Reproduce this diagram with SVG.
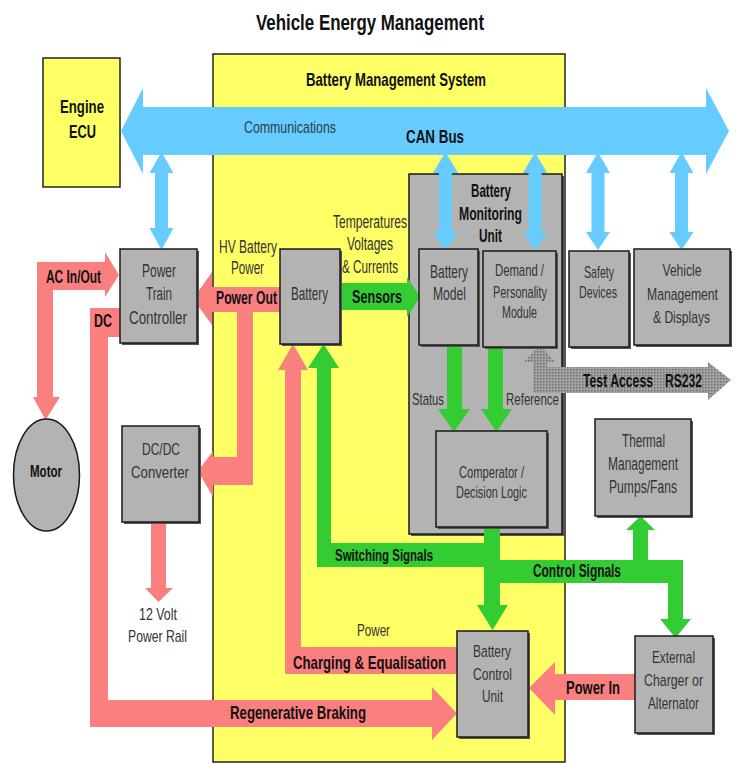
<svg xmlns="http://www.w3.org/2000/svg" width="736" height="763" viewBox="0 0 736 763">
<style>
text{font-family:"Liberation Sans",Arial,sans-serif;text-anchor:middle}
.r{font-size:17px;fill:#333}
.b{font-size:19px;font-weight:bold;fill:#111}
.box{fill:#b3b3b3;stroke:#1a1a1a;stroke-width:1.5}
.sh{fill:#555}
.yel{fill:#ffff66;stroke:#222;stroke-width:1.5}
.pink{fill:#fa8080}
.green{fill:#33cc33}
.blue{fill:#66ccff}
.gray{fill:url(#dots)}
</style>
<defs>
<pattern id="dots" width="3" height="3" patternUnits="userSpaceOnUse"><rect width="3" height="3" fill="#a3a3a3"/><rect width="1.5" height="1.5" fill="#6e6e6e"/></pattern>
</defs>
<rect width="736" height="763" fill="#fff"/>
<text class="b" x="370" y="30" font-size="22" textLength="228" lengthAdjust="spacingAndGlyphs" style="font-size:22px">Vehicle Energy Management</text>

<g id="bms">
<rect class="yel" x="213" y="54" width="352" height="708"/>
<text class="b" x="396" y="86" textLength="180" lengthAdjust="spacingAndGlyphs" style="font-size:18.5px">Battery Management System</text>
</g>
<g id="engine-ecu">
<rect class="yel" x="43" y="58" width="77" height="129"/>
<text class="b" x="82" y="113" textLength="44" lengthAdjust="spacingAndGlyphs" style="font-size:18.5px">Engine</text>
<text class="b" x="82.5" y="138" textLength="27" lengthAdjust="spacingAndGlyphs" style="font-size:18.5px">ECU</text>
</g>
<g id="bmu">
<rect class="sh" x="411" y="176" width="154" height="360"/>
<rect class="box" x="409" y="174" width="153" height="360"/>
<text class="b" x="491" y="197" textLength="40" lengthAdjust="spacingAndGlyphs">Battery</text>
<text class="b" x="490.5" y="220" textLength="63" lengthAdjust="spacingAndGlyphs">Monitoring</text>
<text class="b" x="490.5" y="242" textLength="23" lengthAdjust="spacingAndGlyphs">Unit</text>
</g>

<g id="connectors">
<polygon class="blue" points="121,131 143,88 143,107 706,107 706,88 729,131 706,174 706,155 143,155 143,174"/>
<polygon class="blue" points="161.5,152 173.5,173 168,173 168,228 173.5,228 161.5,250 149.5,228 155,228 155,173 149.5,173"/>
<polygon class="blue" points="445.5,152 458,173 452,173 452,232 458,232 445.5,251 433,232 439,232 439,173 433,173"/>
<polygon class="blue" points="535,152 547,173 541.5,173 541.5,232 547,232 535,251 523,232 528.5,232 528.5,173 523,173"/>
<polygon class="blue" points="598,152 610,173 604.5,173 604.5,232 610,232 598,250 586,232 591.5,232 591.5,173 586,173"/>
<polygon class="blue" points="681.5,152 693.5,173 688,173 688,232 693.5,232 681.5,250 669.5,232 675,232 675,173 669.5,173"/>

<polygon class="pink" points="119,275 105,252 105,262 37,262 37,397 33,397 45.5,420 60,397 53,397 53,290 105,290 105,297"/>
<polygon class="pink" points="90,308 120,308 120,337 108,337 108,700 432,700 432,687 457,713.5 432,740 432,727 90,727"/>
<polygon class="pink" points="280,287 280,312 253,312 253,485 213,485 213,497 198,471 213,451 213,457 237,457 237,312 212,312 212,325 193,299 212,272 212,287"/>
<polygon class="pink" points="151,522 166,522 166,588 173,588 158.5,602 145,588 151,588"/>
<polygon class="pink" points="293,344 308,370 301,370 301,647 457,647 457,674 285,674 285,370 278,370"/>
<polygon class="pink" points="637,674 637,700 555,700 555,715 529,688 555,662 555,674"/>

<polygon class="green" points="340,283 407,283 407,277 420,297 407,317 407,310 340,310"/>
<polygon class="green" points="323.5,344 339,368 331,368 331,543 500,543 500,567 317,567 317,368 308,368"/>
<polygon class="green" points="484,527 500,527 500,560 633,560 633,530 626,530 640.5,516 655,530 648,530 648,560 683,560 683,619 691,619 675.5,638 660,619 668,619 668,583 500,583 500,605 508,605 492.5,630 477,605 484,605"/>
<polygon class="green" points="447,345 462,345 462,409 470,409 454,432 438,409 447,409"/>
<polygon class="green" points="488,347 503,347 503,409 512,409 496.5,432 481,409 488,409"/>

<polygon class="gray" points="540,345 555,362 547,362 547,367 708,367 708,362 731,380 708,400 708,393 533,393 533,362 524,362"/>

<text class="r" x="290" y="133" textLength="92" lengthAdjust="spacingAndGlyphs" style="fill:#2c3e50">Communications</text>
<text class="b" x="435" y="143" textLength="58" lengthAdjust="spacingAndGlyphs" style="font-size:18.5px">CAN Bus</text>
<text class="b" x="73.5" y="283" textLength="55" lengthAdjust="spacingAndGlyphs">AC In/Out</text>
<text class="b" x="103" y="327" textLength="18" lengthAdjust="spacingAndGlyphs">DC</text>
<text class="r" x="248" y="253" textLength="58" lengthAdjust="spacingAndGlyphs" style="font-size:18px">HV Battery</text>
<text class="r" x="247.5" y="274" textLength="33" lengthAdjust="spacingAndGlyphs" style="font-size:18px">Power</text>
<text class="b" x="246.5" y="304" textLength="61" lengthAdjust="spacingAndGlyphs">Power Out</text>
<text class="r" x="370" y="228" textLength="74" lengthAdjust="spacingAndGlyphs" style="font-size:17.5px">Temperatures</text>
<text class="r" x="370" y="250" textLength="46" lengthAdjust="spacingAndGlyphs" style="font-size:17.5px">Voltages</text>
<text class="r" x="370" y="273" textLength="56" lengthAdjust="spacingAndGlyphs" style="font-size:17.5px">&amp; Currents</text>
<text class="b" x="377" y="303" textLength="50" lengthAdjust="spacingAndGlyphs" style="font-size:18.5px">Sensors</text>
<text class="b" x="618" y="387" textLength="70" lengthAdjust="spacingAndGlyphs">Test Access</text>
<text class="b" x="683.5" y="387" textLength="37" lengthAdjust="spacingAndGlyphs">RS232</text>
<text class="r" x="428" y="405" textLength="32" lengthAdjust="spacingAndGlyphs">Status</text>
<text class="r" x="532.5" y="405" textLength="53" lengthAdjust="spacingAndGlyphs">Reference</text>
<text class="b" x="384" y="561" textLength="98" lengthAdjust="spacingAndGlyphs" style="font-size:17px">Switching Signals</text>
<text class="b" x="577" y="577" textLength="88" lengthAdjust="spacingAndGlyphs">Control Signals</text>
<text class="r" x="373.5" y="636" textLength="33" lengthAdjust="spacingAndGlyphs">Power</text>
<text class="b" x="369.5" y="669" textLength="153" lengthAdjust="spacingAndGlyphs">Charging &amp; Equalisation</text>
<text class="b" x="298" y="719" textLength="136" lengthAdjust="spacingAndGlyphs" style="font-size:18.5px">Regenerative Braking</text>
<text class="b" x="593" y="694" textLength="54" lengthAdjust="spacingAndGlyphs">Power In</text>
<text class="r" x="158" y="620" textLength="38" lengthAdjust="spacingAndGlyphs">12 Volt</text>
<text class="r" x="157.5" y="642" textLength="59" lengthAdjust="spacingAndGlyphs">Power Rail</text>
</g>

<g id="power-train-controller">
<rect class="sh" x="122" y="251" width="77" height="94"/>
<rect class="box" x="120" y="249" width="77" height="94"/>
<text class="r" x="159" y="277" textLength="34" lengthAdjust="spacingAndGlyphs" style="font-size:18px">Power</text>
<text class="r" x="159" y="300" textLength="26" lengthAdjust="spacingAndGlyphs" style="font-size:18px">Train</text>
<text class="r" x="158" y="324" textLength="58" lengthAdjust="spacingAndGlyphs" style="font-size:18px">Controller</text>
</g>
<g id="battery">
<rect class="sh" x="282" y="251" width="60" height="95"/>
<rect class="box" x="280" y="249" width="60" height="95"/>
<text class="r" x="309.5" y="300" textLength="37" lengthAdjust="spacingAndGlyphs" style="font-size:18px">Battery</text>
</g>
<g id="battery-model">
<rect class="sh" x="421" y="251" width="59" height="96"/>
<rect class="box" x="419" y="249" width="59" height="96"/>
<text class="r" x="449" y="278" textLength="38" lengthAdjust="spacingAndGlyphs" style="font-size:18px">Battery</text>
<text class="r" x="449.5" y="300" textLength="33" lengthAdjust="spacingAndGlyphs" style="font-size:18px">Model</text>
</g>
<g id="demand-module">
<rect class="sh" x="485" y="253" width="73" height="96"/>
<rect class="box" x="483" y="251" width="73" height="96"/>
<text class="r" x="519.5" y="276" textLength="49" lengthAdjust="spacingAndGlyphs">Demand  /</text>
<text class="r" x="520" y="298" textLength="54" lengthAdjust="spacingAndGlyphs">Personality</text>
<text class="r" x="519.5" y="318" textLength="35" lengthAdjust="spacingAndGlyphs">Module</text>
</g>
<g id="safety-devices">
<rect class="sh" x="571" y="253" width="60" height="96"/>
<rect class="box" x="569" y="251" width="60" height="96"/>
<text class="r" x="599" y="278" textLength="30" lengthAdjust="spacingAndGlyphs">Safety</text>
<text class="r" x="598" y="298" textLength="38" lengthAdjust="spacingAndGlyphs">Devices</text>
</g>
<g id="vehicle-management">
<rect class="sh" x="636" y="251" width="96" height="96"/>
<rect class="box" x="634" y="249" width="96" height="96"/>
<text class="r" x="682" y="276" textLength="39" lengthAdjust="spacingAndGlyphs">Vehicle</text>
<text class="r" x="682.5" y="300" textLength="71" lengthAdjust="spacingAndGlyphs">Management</text>
<text class="r" x="681.5" y="323" textLength="57" lengthAdjust="spacingAndGlyphs">&amp; Displays</text>
</g>
<g id="motor">
<ellipse cx="46.5" cy="475" rx="33" ry="56" class="box"/>
<text class="b" x="46" y="477" textLength="32" lengthAdjust="spacingAndGlyphs" style="font-size:17px">Motor</text>
</g>
<g id="dcdc-converter">
<rect class="sh" x="124" y="428" width="77" height="96"/>
<rect class="box" x="122" y="426" width="77" height="96"/>
<text class="r" x="161" y="455" textLength="38" lengthAdjust="spacingAndGlyphs">DC/DC</text>
<text class="r" x="160" y="478" textLength="58" lengthAdjust="spacingAndGlyphs">Converter</text>
</g>
<g id="comparator">
<rect class="sh" x="438" y="433" width="111" height="96"/>
<rect class="box" x="436" y="431" width="111" height="96"/>
<text class="r" x="491.5" y="478" textLength="65" lengthAdjust="spacingAndGlyphs">Comperator /</text>
<text class="r" x="491.5" y="498" textLength="71" lengthAdjust="spacingAndGlyphs">Decision Logic</text>
</g>
<g id="thermal-management">
<rect class="sh" x="597" y="421" width="96" height="97"/>
<rect class="box" x="595" y="419" width="96" height="97"/>
<text class="r" x="643.5" y="447" textLength="43" lengthAdjust="spacingAndGlyphs" style="font-size:18px">Thermal</text>
<text class="r" x="643" y="470" textLength="70" lengthAdjust="spacingAndGlyphs" style="font-size:18px">Management</text>
<text class="r" x="643" y="493" textLength="68" lengthAdjust="spacingAndGlyphs" style="font-size:18px">Pumps/Fans</text>
</g>
<g id="battery-control-unit">
<rect class="sh" x="459" y="633" width="71" height="106"/>
<rect class="box" x="457" y="631" width="71" height="106"/>
<text class="r" x="492" y="657" textLength="38" lengthAdjust="spacingAndGlyphs">Battery</text>
<text class="r" x="492.5" y="680" textLength="39" lengthAdjust="spacingAndGlyphs">Control</text>
<text class="r" x="492.5" y="702" textLength="21" lengthAdjust="spacingAndGlyphs">Unit</text>
</g>
<g id="external-charger">
<rect class="sh" x="637" y="638" width="78" height="97"/>
<rect class="box" x="635" y="636" width="78" height="97"/>
<text class="r" x="673.5" y="663" textLength="43" lengthAdjust="spacingAndGlyphs">External</text>
<text class="r" x="673.5" y="686" textLength="59" lengthAdjust="spacingAndGlyphs">Charger or</text>
<text class="r" x="673.5" y="709" textLength="51" lengthAdjust="spacingAndGlyphs">Alternator</text>
</g>
</svg>
